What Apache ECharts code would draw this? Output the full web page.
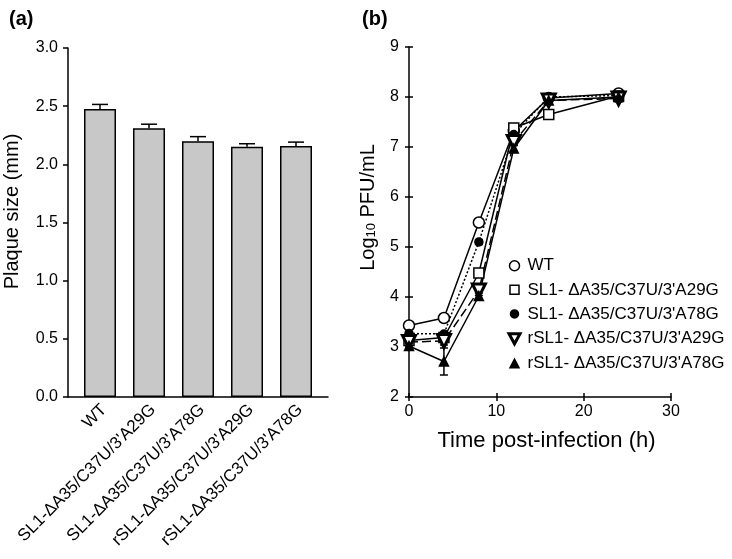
<!DOCTYPE html>
<html><head><meta charset="utf-8">
<script src="https://cdn.jsdelivr.net/npm/echarts@6/dist/echarts.min.js"></script>
<style>html,body{margin:0;padding:0;background:#fff}#c{width:732px;height:559px}</style>
</head><body><div id="c"></div>
<script>
// ---- Panel (a) data ----
const barCategories = ["WT", "SL1-\u0394A35/C37U/3'A29G", "SL1-\u0394A35/C37U/3'A78G", "rSL1-\u0394A35/C37U/3'A29G", "rSL1-\u0394A35/C37U/3'A78G"];
const plaqueSize = [2.475, 2.31, 2.198, 2.152, 2.158];
const plaqueErr = [0.04, 0.035, 0.04, 0.025, 0.033];
const plaqueTicks = [0, 0.5, 1.0, 1.5, 2.0, 2.5, 3.0];

// ---- Panel (b) data ----
const timePoints = [0, 4, 8, 12, 16, 24];
const seriesNames = ["WT", "SL1- \u0394A35/C37U/3'A29G", "SL1- \u0394A35/C37U/3'A78G", "rSL1- \u0394A35/C37U/3'A29G", "rSL1- \u0394A35/C37U/3'A78G"];
const wtVals = [3.43, 3.58, 5.49, 7.32, 7.98, 8.07];
const sl1A29Vals = [3.13, 3.19, 4.48, 7.38, 7.65, 8.02];
const sl1A78Vals = [3.27, 3.26, 5.10, 7.25, 8.00, 8.03];
const rsl1A29Vals = [3.10, 3.12, 4.13, 7.10, 7.93, 7.97];
const rsl1A78Vals = [3.02, 2.71, 4.02, 6.97, 7.93, 8.00];
const wtErr = [0.04, 0.03, 0.04, 0.05, 0.04, 0.06];
const sl1A29Err = [0.05, 0.05, 0.08, 0.05, 0.04, 0.05];
const sl1A78Err = [0.04, 0.04, 0.05, 0.05, 0.03, 0.04];
const rsl1A29Err = [0.12, 0.08, 0.10, 0.06, 0.05, 0.07];
const rsl1A78Err = [0.08, 0.27, 0.06, 0.06, 0.05, 0.06];
const timeTicks = [0, 10, 20, 30];
const logTicks = [2, 3, 4, 5, 6, 7, 8, 9];

const FONT = "'Liberation Sans', Arial, Helvetica, sans-serif";
const chart = echarts.init(document.getElementById('c'), null, {renderer: 'canvas'});

function errRenderer(capHalf, upOnly) {
  return function (params, api) {
    const x = api.value(0), v = api.value(1), e = api.value(2);
    const pTop = api.coord([x, v + e]);
    const pBot = api.coord([x, upOnly ? v : v - e]);
    const st = {stroke: '#000', lineWidth: 1.5};
    const children = [
      {type: 'line', shape: {x1: pTop[0], y1: pTop[1], x2: pBot[0], y2: pBot[1]}, style: st},
      {type: 'line', shape: {x1: pTop[0] - capHalf, y1: pTop[1], x2: pTop[0] + capHalf, y2: pTop[1]}, style: st}
    ];
    if (!upOnly) children.push({type: 'line', shape: {x1: pBot[0] - capHalf, y1: pBot[1], x2: pBot[0] + capHalf, y2: pBot[1]}, style: st});
    return {type: 'group', children: children};
  };
}

const lineDefs = [
  {name: seriesNames[0], vals: wtVals, err: wtErr, symbol: 'circle', size: 11, fill: '#fff', dash: 'solid', rot: 0},
  {name: seriesNames[1], vals: sl1A29Vals, err: sl1A29Err, symbol: 'rect', size: 10, fill: '#fff', dash: 'solid', rot: 0},
  {name: seriesNames[2], vals: sl1A78Vals, err: sl1A78Err, symbol: 'circle', size: 8, fill: '#000', dash: [2, 2], rot: 0},
  {name: seriesNames[3], vals: rsl1A29Vals, err: rsl1A29Err, symbol: 'triangle', size: 13, fill: '#fff', dash: [9, 4], rot: 180, bw: 3},
  {name: seriesNames[4], vals: rsl1A78Vals, err: rsl1A78Err, symbol: 'triangle', size: 9, fill: '#000', dash: 'solid', rot: 0}
];
// legend icons drawn in a 16x16 box (leading M points fix the box so shapes keep their own size)
const legendIcons = [
  'path://M0,0M16,16M13,8A5,5,0,1,1,3,8A5,5,0,1,1,13,8Z',
  'path://M0,0M16,16M3.5,3.5L12.5,3.5L12.5,12.5L3.5,12.5Z',
  'path://M0,0M16,16M12,8A4,4,0,1,1,4,8A4,4,0,1,1,12,8Z',
  'path://M0,0M16,16M2.5,3L13.5,3L8,13Z',
  'path://M0,0M16,16M8,3.5L12.5,12L3.5,12Z'
];

const series = [
  {type: 'bar', xAxisIndex: 1, yAxisIndex: 1, data: plaqueSize, barWidth: 32,
   itemStyle: {color: '#c8c8c8', borderColor: '#000', borderWidth: 1.5}, silent: true},
  {type: 'custom', xAxisIndex: 1, yAxisIndex: 1, renderItem: errRenderer(8, true),
   data: plaqueSize.map((v, i) => [i, v, plaqueErr[i]]), z: 5, silent: true}
];
lineDefs.forEach(d => {
  series.push({type: 'custom', xAxisIndex: 2, yAxisIndex: 2, renderItem: errRenderer(4, false),
    data: timePoints.map((t, i) => [t, d.vals[i], d.err[i]]), z: 2, silent: true});
});
lineDefs.forEach(d => {
  series.push({type: 'line', name: d.name, xAxisIndex: 2, yAxisIndex: 2,
    data: timePoints.map((t, i) => [t, d.vals[i]]),
    symbol: d.symbol, symbolSize: d.size, symbolRotate: d.rot, showAllSymbol: true,
    lineStyle: {color: '#000', width: 1.5, type: d.dash},
    itemStyle: {color: d.fill, borderColor: '#000', borderWidth: d.bw || 1.5},
    z: 3, silent: true, animation: false});
});

const axisLineStyle = {show: true, lineStyle: {color: '#000', width: 1.5}};
const labelStyle = {color: '#000', fontFamily: FONT, fontSize: 16};

chart.setOption({
  animation: false,
  backgroundColor: '#fff',
  title: [
    {text: '(a)', left: 4, top: 4, textStyle: {fontFamily: FONT, fontSize: 20, fontWeight: 'bold', color: '#000'}},
    {text: '(b)', left: 357, top: 4, textStyle: {fontFamily: FONT, fontSize: 20, fontWeight: 'bold', color: '#000'}}
  ],
  grid: [
    {left: 68, top: 48, width: 260, height: 349},
    {left: 75.5, top: 48, width: 245, height: 349},
    {left: 409, top: 47, width: 262, height: 350},
    {left: 409, top: 47, width: 262, height: 350},
    {left: 79.5, top: 48, width: 245, height: 349}
  ],
  xAxis: [
    {gridIndex: 0, type: 'value', min: 0, max: 1, axisLine: axisLineStyle, axisTick: {show: false}, axisLabel: {show: false}, splitLine: {show: false}},
    {gridIndex: 1, type: 'category', data: barCategories, axisLine: {show: false}, axisTick: {show: false},
     axisLabel: {show: false}, splitLine: {show: false}},
    {gridIndex: 2, type: 'value', min: timeTicks[0], max: timeTicks[timeTicks.length - 1], interval: 10,
     axisLine: axisLineStyle, axisTick: {show: true, length: 4, lineStyle: {color: '#000', width: 1.5}},
     axisLabel: Object.assign({margin: 7}, labelStyle), splitLine: {show: false},
     name: 'Time post-infection (h)', nameLocation: 'middle', nameGap: 33,
     nameTextStyle: {fontFamily: FONT, fontSize: 22, color: '#000', padding: [0, 0, 0, 13]}},
    {gridIndex: 3, type: 'value', min: 0, max: 30, interval: 10, axisLine: {show: false},
     axisTick: {show: true, inside: true, length: 4, lineStyle: {color: '#000', width: 1.5}},
     axisLabel: {show: false}, splitLine: {show: false}},
    {gridIndex: 4, type: 'category', data: barCategories, axisLine: {show: false}, axisTick: {show: false},
     axisLabel: Object.assign({rotate: 45, margin: 10, interval: 0}, labelStyle, {fontSize: 17}), splitLine: {show: false}}
  ],
  yAxis: [
    {gridIndex: 0, type: 'value', min: 0, max: 3, interval: 0.5, axisLine: axisLineStyle,
     axisTick: {show: true, length: 5, lineStyle: {color: '#000', width: 1.5}},
     axisLabel: Object.assign({margin: 10, formatter: v => v.toFixed(1)}, labelStyle), splitLine: {show: false},
     name: 'Plaque size (mm)', nameLocation: 'middle', nameGap: 46,
     nameTextStyle: {fontFamily: FONT, fontSize: 20, color: '#000', padding: [0, 0, 0, 22]}},
    {gridIndex: 1, type: 'value', min: 0, max: 3, show: false},
    {gridIndex: 2, type: 'value', min: logTicks[0], max: logTicks[logTicks.length - 1], interval: 1,
     axisLine: axisLineStyle, axisTick: {show: true, length: 4, lineStyle: {color: '#000', width: 1.5}},
     axisLabel: Object.assign({margin: 10}, labelStyle), splitLine: {show: false},
     name: '{a|Log}{s|10}{a| PFU/mL}', nameLocation: 'middle', nameGap: 31,
     nameTextStyle: {fontFamily: FONT, fontSize: 20, color: '#000', padding: [0, 0, 0, 29],
       rich: {a: {fontFamily: FONT, fontSize: 20, color: '#000'}, s: {fontFamily: FONT, fontSize: 13, color: '#000', verticalAlign: 'bottom', padding: [7, 0, 0, 0]}}}},
    {gridIndex: 3, type: 'value', min: 2, max: 9, interval: 1, axisLine: {show: false},
     axisTick: {show: true, inside: true, length: 4, lineStyle: {color: '#000', width: 1.5}},
     axisLabel: {show: false}, splitLine: {show: false}},
    {gridIndex: 4, type: 'value', min: 0, max: 3, show: false}
  ],
  legend: {
    orient: 'vertical', left: 505, top: 257, padding: 0, itemWidth: 16, itemHeight: 16, itemGap: 6.6,
    textStyle: {fontFamily: FONT, fontSize: 17, color: '#000'},
    selectedMode: false,
    data: seriesNames.map((n, i) => ({name: n, icon: legendIcons[i],
      itemStyle: {color: lineDefs[i].fill, borderColor: '#000', borderWidth: lineDefs[i].bw || 1.5}}))
  },
  series: series
});
</script></body></html>
